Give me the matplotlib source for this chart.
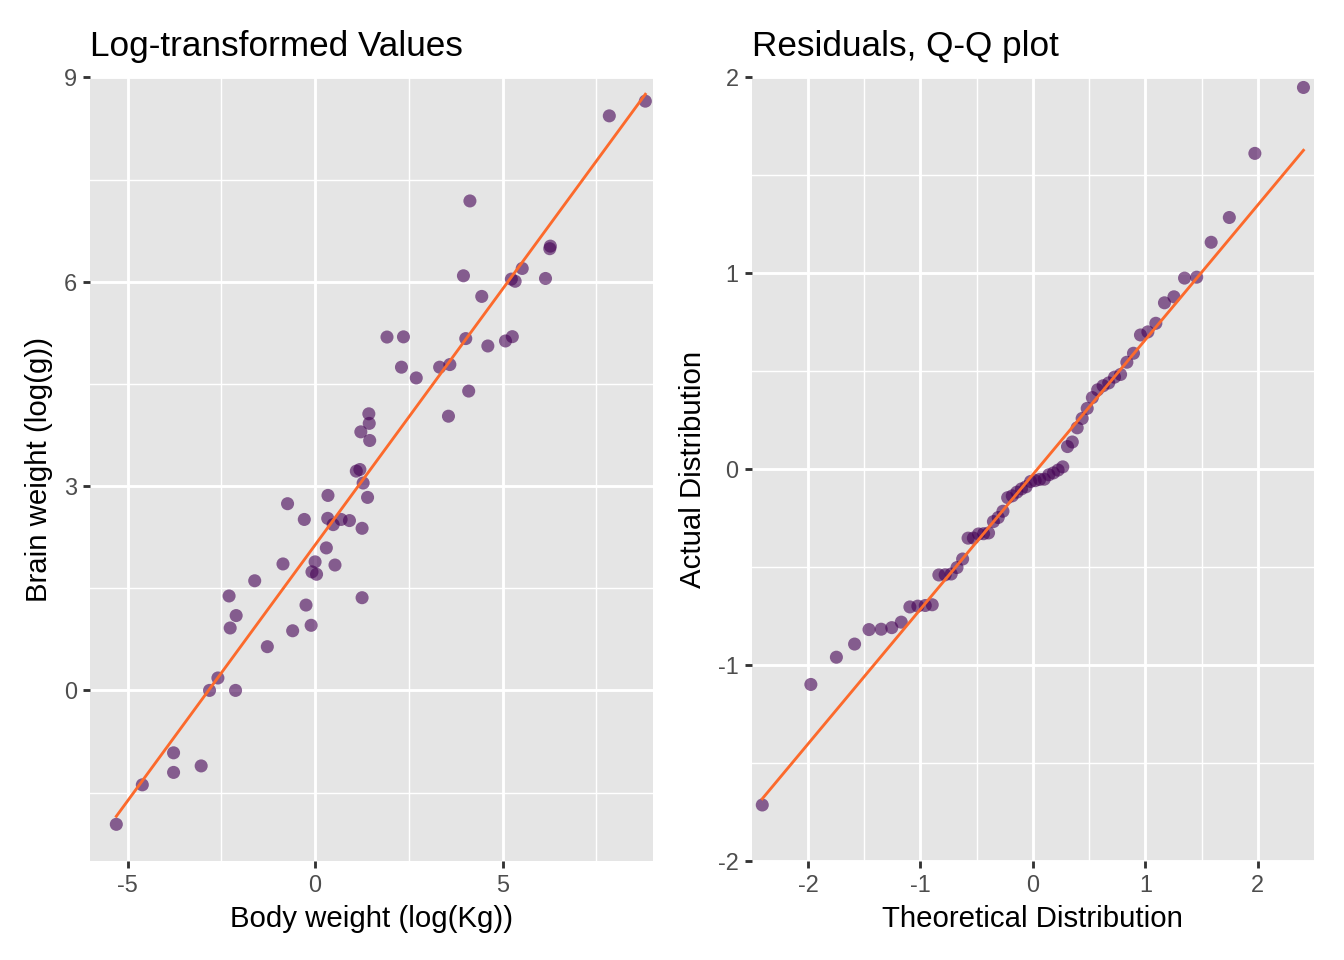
import matplotlib
matplotlib.use("Agg")
import matplotlib.pyplot as plt
import numpy as np
from statistics import NormalDist

# mammals: body weight (kg) and brain weight (g)
body = [3.385, 0.48, 1.35, 465, 36.33, 27.66, 14.83, 1.04, 4.19, 0.425,
        0.101, 0.92, 1, 0.005, 0.06, 3.5, 2, 1.7, 2547, 0.023,
        187.1, 521, 0.785, 10, 3.3, 0.2, 1.41, 529, 207, 85,
        0.75, 62, 6654, 3.5, 6.8, 35, 4.05, 0.12, 0.023, 0.01,
        1.4, 250, 2.5, 55.5, 100, 52.16, 10.55, 0.55, 60, 3.6,
        4.288, 0.28, 0.075, 0.122, 0.048, 192, 3, 160, 0.9, 1.62, 0.104, 4.235]
brain = [44.5, 15.5, 8.1, 423, 119.5, 115, 98.2, 5.5, 58, 6.4,
         4, 5.7, 6.6, 0.14, 1, 10.8, 12.3, 6.3, 4603, 0.3,
         419, 655, 3.5, 115, 25.6, 5, 17.5, 680, 406, 325,
         12.3, 1320, 5712, 3.9, 179, 56, 17, 1, 0.4, 0.25,
         12.5, 490, 12.1, 175, 157, 440, 179.5, 2.4, 81, 21,
         39.2, 1.9, 1.2, 3, 0.33, 180, 25, 169, 2.6, 11.4, 2.5, 50.4]

left_xticks = [-5, 0, 5]
left_yticks = [0, 3, 6, 9]
right_ticks = [-2, -1, 0, 1, 2]

x = np.log(body)
y = np.log(brain)

# linear fit and residuals
slope, icpt = np.polyfit(x, y, 1)
resid = y - (icpt + slope * x)

n = len(resid)
nd = NormalDist()
theo = np.array([nd.inv_cdf((i - 0.5) / n) for i in range(1, n + 1)])
samp = np.sort(resid)
qy = np.percentile(resid, [25, 75])
qx = np.array([nd.inv_cdf(0.25), nd.inv_cdf(0.75)])
qslope = (qy[1] - qy[0]) / (qx[1] - qx[0])
qicpt = qy[0] - qslope * qx[0]

plt.rcParams['font.family'] = ['Liberation Sans', 'DejaVu Sans']
plt.rcParams['axes.unicode_minus'] = False

pt_col = (68/255, 1/255, 84/255, 0.6)
ln_col = "#FC6A2C"
bg = "#E5E5E5"

fig = plt.figure(figsize=(7, 5), dpi=192)
ax1 = fig.add_axes([0.06696, 0.10344, 0.4187, 0.8160])
ax2 = fig.add_axes([0.5593, 0.10344, 0.4184, 0.8160])


def style(ax, xt, yt, xlim, ylim):
    ax.set_facecolor(bg)
    ax.set_xlim(*xlim)
    ax.set_ylim(*ylim)
    ax.set_xticks(xt)
    ax.set_yticks(yt)
    xmin = [(a + b) / 2 for a, b in zip(xt[:-1], xt[1:])]
    d = xt[1] - xt[0]
    xmin = [xt[0] - d / 2] + xmin + [xt[-1] + d / 2]
    ymin = [(a + b) / 2 for a, b in zip(yt[:-1], yt[1:])]
    d = yt[1] - yt[0]
    ymin = [yt[0] - d / 2] + ymin + [yt[-1] + d / 2]
    for v in xmin:
        if xlim[0] < v < xlim[1]:
            ax.axvline(v, color="white", lw=0.53, zorder=0.5)
    for v in ymin:
        if ylim[0] < v < ylim[1]:
            ax.axhline(v, color="white", lw=0.53, zorder=0.5)
    ax.grid(True, color="white", lw=1.07, zorder=0.6)
    ax.set_axisbelow(True)
    for s in ax.spines.values():
        s.set_visible(False)
    ax.tick_params(length=2.75, width=1.07, color="#333333",
                   labelcolor="#4D4D4D", labelsize=8.8, pad=2.2)


style(ax1, left_xticks, left_yticks, (-6, 9), (-2.5, 9))
ax1.scatter(x, y, s=24, color=pt_col, edgecolors="none", zorder=3)
xs = np.array([x.min(), x.max()])
ax1.plot(xs, icpt + slope * xs, color=ln_col, lw=1.07, zorder=4)
ax1.set_title("Log-transformed Values", loc="left", fontsize=13.2, pad=8)
ax1.set_xlabel("Body weight (log(Kg))", fontsize=11, labelpad=3)
ax1.set_ylabel("Brain weight (log(g))", fontsize=11, labelpad=4)

style(ax2, right_ticks, right_ticks, (-2.5, 2.5), (-2, 2))
ax2.scatter(theo, samp, s=24, color=pt_col, edgecolors="none", zorder=3)
ts = np.array([theo.min(), theo.max()])
ax2.plot(ts, qicpt + qslope * ts, color=ln_col, lw=1.07, zorder=4)
ax2.set_title("Residuals, Q-Q plot", loc="left", fontsize=13.2, pad=8)
ax2.set_xlabel("Theoretical Distribution", fontsize=11, labelpad=3)
ax2.set_ylabel("Actual Distribution", fontsize=11, labelpad=4)

fig.savefig("out.png", dpi=192)
